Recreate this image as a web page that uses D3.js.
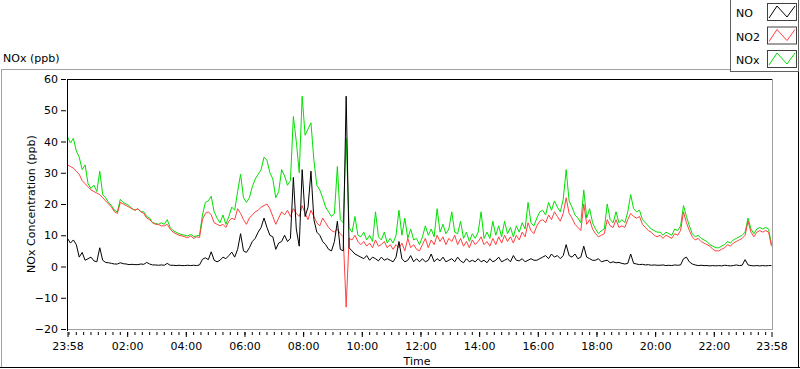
<!DOCTYPE html>
<html><head><meta charset="utf-8">
<script src="https://cdn.jsdelivr.net/npm/d3@7"></script>
<style>
body{margin:0;background:#fff}
svg{display:block;font-family:"DejaVu Sans",sans-serif;font-size:11px}
</style>
</head><body><svg id="c" width="800" height="369"></svg>
<script>
// ---- data ----
const seriesNames = ["NO", "NO2", "NOx"];
const seriesColors = ["#000000", "#ff4040", "#00e000"];
const startTime = "2000-01-01T23:58:00";
const stepMinutes = 6;
const yTicks = [-20, -10, 0, 10, 20, 30, 40, 50, 60];
const xTickTimes = ["2000-01-01T23:58:00","2000-01-02T02:00:00","2000-01-02T04:00:00","2000-01-02T06:00:00",
  "2000-01-02T08:00:00","2000-01-02T10:00:00","2000-01-02T12:00:00","2000-01-02T14:00:00",
  "2000-01-02T16:00:00","2000-01-02T18:00:00","2000-01-02T20:00:00","2000-01-02T22:00:00","2000-01-02T23:58:00"];
const xTickLabels = ["23:58","02:00","04:00","06:00","08:00","10:00","12:00","14:00","16:00","18:00","20:00","22:00","23:58"];

const noValues = [
  9, 7.5, 8.5, 7, 3, 4.5, 2, 2.5, 3, 1.8,
  1.5, 6, 2, 1.3, 1.2, 1, 0.8, 0.8, 1.2, 0.9,
  0.8, 0.6, 0.7, 0.6, 0.6, 0.8, 0.7, 1.3, 0.8, 0.5,
  0.5, 0.4, 0.5, 0.4, 1, 0.4, 0.4, 0.3, 0.4, 0.3,
  0.3, 0.4, 0.3, 0.4, 0.3, 0.5, 2.3, 2.8, 2.2, 4.7,
  2, 1.5, 2, 3, 2.5, 3.5, 4.6, 3, 5.5, 10.5,
  5, 4.5, 6, 8, 9, 11, 12.5, 15.5, 12.5, 10,
  9.5, 5.5, 7.5, 8, 10, 8, 9, 28.5, 12, 6.5,
  31, 16, 19, 30.5, 15, 11, 10, 8, 7, 5.5,
  5, 8, 14.5, 5.5, 5, 54.5, 6, 5, 4, 3.5,
  3, 2.5, 3.5, 2, 3, 2.5, 1.8, 3, 2, 2.5,
  2, 1.5, 3, 8, 2.5, 1.5, 2, 3.5, 1.5, 2.5,
  1.5, 2.5, 1.5, 2, 4, 1.5, 2.5, 1.8, 3, 1.5,
  2, 2.5, 1.5, 3, 1.8, 1.2, 2.5, 1.5, 2, 1.5,
  2.5, 1.5, 2, 1.2, 2.5, 1.5, 2, 3, 1.5, 2,
  2.5, 1.5, 3.5, 2, 1.8, 2.5, 1.5, 2, 2.5, 2,
  2, 2.5, 3, 3.5, 2.5, 4, 3, 3.5, 2.5, 3.5,
  7, 3.5, 3, 4, 2.5, 3, 6.5, 3, 2.5, 2,
  2, 2.5, 1.5, 1.8, 2, 1.2, 1.5, 1.2, 1.3, 1,
  0.8, 1, 4, 1, 0.8, 0.6, 0.7, 0.5, 0.6, 0.4,
  0.5, 0.4, 0.4, 0.5, 0.3, 0.4, 0.3, 0.5, 0.4, 0.5,
  2.5, 3, 1.5, 0.8, 0.5, 0.3, 0.4, 0.3, 0.3, 0.2,
  0.3, 0.2, 0.3, 0.2, 0.4, 0.3, 0.2, 0.3, 0.5, 0.3,
  0.4, 2.2, 0.5, 0.3, 0.2, 0.3, 0.2, 0.3, 0.2, 0.3, 0.3
];
const no2Values = [
  32.5, 32, 31.5, 30.5, 29.5, 27.5, 26.5, 25.5, 24.5, 24,
  23.5, 23, 22, 21, 20, 19, 17.5, 17, 20.5, 20,
  19.5, 19, 18.5, 18, 18.5, 17.5, 17, 15.5, 15, 14,
  13.5, 13.5, 13, 13, 13.5, 12, 11, 10.5, 10, 9.8,
  9.5, 9.2, 9.8, 9, 9.5, 9.3, 15, 17, 17.5, 16.5,
  14, 13.5, 13, 13.5, 12.5, 14.5, 15.5, 15, 18.5, 17,
  15, 13.5, 15.5, 16.5, 17.5, 18, 19, 19.5, 20, 18.5,
  16, 13.5, 15.5, 17.5, 16.5, 18, 16, 18.5, 17, 16,
  19.5, 17, 15, 18, 16, 14, 13, 15.5, 14, 12.5,
  11.5, 11, 12, 10.5, 9.5, -13, 9, 8.5, 10, 8,
  7, 8, 6.5, 7.5, 6, 8.5, 6.5, 7, 8, 6,
  7, 5.5, 7, 6, 7.5, 5, 9, 6, 7, 5.5,
  5, 7, 9, 6, 8.5, 7, 10, 8, 9.5, 7,
  9, 8, 10, 7, 9, 6.5, 8, 6, 8.5, 7,
  8, 9.5, 7, 8, 6.5, 9, 7, 9.5, 7.5, 10,
  8, 9.5, 7.5, 10, 8.5, 11, 9.5, 14, 11.5, 10.5,
  13, 14.5, 15, 14, 16.5, 15, 17.5, 16, 14.5, 17,
  22, 17, 15.5, 13.5, 12.5, 11.5, 20, 13.5, 15, 12,
  10.5, 9.5, 10, 10.5, 15, 13, 12.5, 15, 12.5, 13,
  12.5, 15, 17, 16, 15.5, 16, 13.5, 12.5, 11.5, 11,
  10, 9.5, 10, 9, 10, 9.5, 9, 10.5, 10, 11.5,
  17.5, 14, 11.5, 9.5, 8.5, 9, 8, 7.5, 7, 6.5,
  5.5, 5, 5, 5.5, 6, 7, 6.5, 7.5, 8, 8.5,
  9, 10, 14.5, 11, 9.5, 11, 11.5, 11, 11.5, 11, 6.5
];
const noxValues = [
  41.5, 39.5, 41, 37, 35, 31, 32.5, 26.5, 25, 26,
  24, 30.5, 23, 22, 20.5, 19.5, 18, 17.5, 21.5, 20.5,
  20, 19.5, 18.5, 18, 18.5, 17.5, 17.5, 16, 15.5, 14,
  13.8, 13.5, 14, 13.5, 15, 12.5, 11.5, 11, 10.5, 10.2,
  10, 9.8, 10.3, 9.6, 9.8, 10, 16.5, 20.5, 21, 22.5,
  17.5, 15.5, 14, 16.5, 13.5, 16, 19, 18, 24, 29.5,
  22, 20.5, 22, 25.5, 28, 29.5, 31, 35, 34, 30,
  28, 22, 24, 31, 29, 26, 27.5, 48, 40, 30,
  54.5, 42, 44, 46, 34, 26, 24.5, 22, 19, 17.5,
  16, 17, 32, 15, 14, 41, 12.5, 11, 16, 10,
  9.5, 11, 8.5, 10, 8, 17.5, 9.5, 8.5, 11, 7.5,
  9, 7.5, 10, 18, 10, 15.5, 9, 12, 8.5, 9,
  7, 9.5, 13, 10, 12, 9.5, 18.5, 11, 13.5, 10.5,
  12, 17.5, 11, 10.5, 14.5, 9, 11, 8, 10.5, 9,
  11, 17.5, 9, 11, 9, 14.5, 10, 13, 9.5, 14.5,
  10.5, 12.5, 9.5, 13, 11, 14, 12, 20.5, 14, 13,
  15.5, 17.5, 18, 16.5, 20.5, 18, 21, 19, 17.5, 21.5,
  31, 21, 19, 16.5, 15.5, 14, 24.5, 15.5, 18.5, 14,
  12, 10.5, 11.5, 12, 20, 15, 14, 17.5, 14, 15,
  14, 17.5, 23, 18.5, 17.5, 18, 15, 14, 13, 12,
  11.5, 11, 11, 10, 11, 10.5, 10, 12, 11.5, 13,
  19.5, 16, 13, 10.5, 9.5, 10, 9, 8.5, 8, 7,
  6.5, 6, 6, 6.5, 7, 8, 7.5, 8.5, 9, 9.5,
  10, 11, 15.5, 12, 10.5, 12, 12.5, 12, 12.5, 12, 7
];

// ---- drawing ----
const svg = d3.select("#c");
const L = 67, R = 772, T = 79, B = 329;
const t0 = new Date(startTime);
const times = noValues.map((_, i) => d3.timeMinute.offset(t0, i * stepMinutes));
const x = d3.scaleTime().domain([t0, new Date(xTickTimes[xTickTimes.length - 1])]).range([L + 0.5, R - 0.5]);
const y = d3.scaleLinear().domain([-20, 60]).range([B, T]);

// outer frame
svg.append("line").attr("x1", 1).attr("x2", 731).attr("y1", 69.5).attr("y2", 69.5).attr("stroke", "#a0a0a0");
svg.append("line").attr("x1", 1.5).attr("x2", 1.5).attr("y1", 69).attr("y2", 368).attr("stroke", "#a0a0a0");
svg.append("line").attr("x1", 0).attr("x2", 800).attr("y1", 367.5).attr("y2", 367.5).attr("stroke", "#000");
svg.append("line").attr("x1", 798.5).attr("x2", 798.5).attr("y1", 0).attr("y2", 368).attr("stroke", "#000");

svg.append("text").attr("x", 3).attr("y", 62).attr("fill", "#000").text("NOx (ppb)");

// plot area borders
svg.append("line").attr("x1", L).attr("x2", R + 1).attr("y1", T + 0.5).attr("y2", T + 0.5).attr("stroke", "#000");
svg.append("line").attr("x1", R + 0.5).attr("x2", R + 0.5).attr("y1", T).attr("y2", B + 1).attr("stroke", "#a0a0a0");
svg.append("line").attr("x1", L).attr("x2", R + 1).attr("y1", B + 0.5).attr("y2", B + 0.5).attr("stroke", "#a0a0a0");

// clip
svg.append("defs").append("clipPath").attr("id", "pc").append("rect")
  .attr("x", L + 1).attr("y", T + 1).attr("width", R - L - 1).attr("height", B - T);

const plot = svg.append("g").attr("clip-path", "url(#pc)");
const series = [noValues, no2Values, noxValues];
[2, 1, 0].forEach(k => {
  const line = d3.line().x((d, i) => x(times[i])).y(d => y(d));
  plot.append("path").datum(series[k]).attr("d", line)
    .attr("fill", "none").attr("stroke", seriesColors[k]).attr("stroke-width", 1)
    .attr("stroke-linejoin", "miter");
});

// y axis
const ya = d3.axisLeft(y).tickValues(yTicks).tickSize(5).tickPadding(3).tickFormat(d3.format("d"));
const yg = svg.append("g").attr("transform", `translate(${L - 1},0)`).call(ya);
yg.select(".domain").remove();
yg.selectAll("text").attr("fill", "#000").style("font-size", "11px").style("font-family", "DejaVu Sans");
yg.selectAll("line").attr("stroke", "#000");
svg.append("line").attr("x1", L + 0.5).attr("x2", L + 0.5).attr("y1", T).attr("y2", B + 2).attr("stroke", "#000");

svg.append("text").attr("transform", `translate(35,${(T + B) / 2}) rotate(-90)`)
  .attr("text-anchor", "middle").attr("fill", "#000").text("NOx Concentration (ppb)");

// x axis
const majorTimes = xTickTimes.map(s => new Date(s));
const minorTimes = d3.timeMinute.every(15).range(t0, majorTimes[majorTimes.length - 1]);
const xminor = d3.axisBottom(x).tickValues(minorTimes).tickSize(3).tickFormat("");
const xmg = svg.append("g").attr("transform", `translate(0,${B + 3})`).call(xminor);
xmg.select(".domain").remove();
xmg.selectAll("line").attr("stroke", "#000");
const xa = d3.axisBottom(x).tickValues(majorTimes).tickSize(5).tickPadding(5)
  .tickFormat((d, i) => xTickLabels[i]);
const xg = svg.append("g").attr("transform", `translate(0,${B + 3})`).call(xa);
xg.select(".domain").remove();
xg.selectAll("line").attr("stroke", "#000");
xg.selectAll("text").attr("fill", "#000").style("font-size", "11px").style("font-family", "DejaVu Sans");

svg.append("text").attr("x", 417).attr("y", 365).attr("text-anchor", "middle").attr("fill", "#000").text("Time");

// legend
svg.append("rect").attr("x", 730.5).attr("y", -0.5).attr("width", 68).attr("height", 72)
  .attr("fill", "#fff").attr("stroke", "#606060");
seriesNames.forEach((name, k) => {
  const by = 3 + k * 23.5;
  svg.append("text").attr("x", 736).attr("y", by + 14).attr("fill", "#000").text(name);
  svg.append("rect").attr("x", 767.5).attr("y", by + 0.5).attr("width", 29).attr("height", 17)
    .attr("fill", "#fff").attr("stroke", "#404040");
  svg.append("polyline").attr("points", [[769, by + 15], [777, by + 3], [787, by + 14], [795, by + 3]].map(p => p.join(",")).join(" "))
    .attr("fill", "none").attr("stroke", seriesColors[k]);
});
</script>
</body></html>
